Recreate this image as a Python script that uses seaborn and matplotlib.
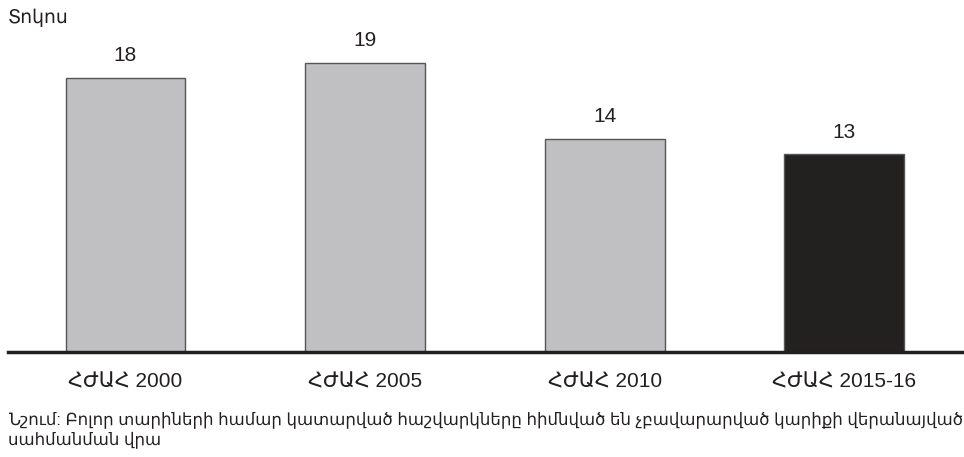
import matplotlib
matplotlib.use("Agg")
import matplotlib.pyplot as plt
import seaborn as sns
import pandas as pd

# chart data
surveys = ["ՀԺԱՀ 2000", "ՀԺԱՀ 2005", "ՀԺԱՀ 2010", "ՀԺԱՀ 2015-16"]
percent = [18, 19, 14, 13]
bar_colors = ["#bfc0c3", "#bfc0c3", "#bfc0c3", "#231f20"]

y_label = "Տոկոս"
note = ("Նշում: Բոլոր տարիների համար կատարված հաշվարկները հիմնված են չբավարարված կարիքի վերանայված\n"
        "սահմանման վրա")

sns.set_theme(style="white")
plt.rcParams["font.family"] = ["Liberation Sans", "DejaVu Sans"]

df = pd.DataFrame({"survey": surveys, "percent": percent})

fig = plt.figure(figsize=(9.64, 4.57), dpi=100)
ax = fig.add_axes([8 / 964, (457 - 352) / 457, 1 - 8 / 964, (352 - 40) / 457])

sns.barplot(data=df, x="survey", y="percent", hue="survey", palette=bar_colors,
            legend=False, width=0.5, edgecolor="#555555", linewidth=1, ax=ax)

for container in ax.containers:
    ax.bar_label(container, fmt="%d", padding=9, fontsize=15, color="#231f20")

ax.set_xlim(-0.49, 3.5)
ax.set_ylim(0, 20.49)
ax.set_yticks([])
ax.set_xlabel("")
ax.set_ylabel("")
for side in ["top", "right", "left"]:
    ax.spines[side].set_visible(False)
ax.spines["bottom"].set_color("#231f20")
ax.spines["bottom"].set_linewidth(2.5)
ax.tick_params(axis="x", length=0, pad=15, labelsize=15, labelcolor="#231f20")

fig.text(8 / 964, 1 - 18 / 457, y_label, fontsize=13.5, color="#231f20", va="center", ha="left")
fig.text(8 / 964, 1 - 411 / 457, note, fontsize=11.9, color="#231f20", va="top", ha="left",
         linespacing=1.25)

fig.savefig("out.png", dpi=100)
